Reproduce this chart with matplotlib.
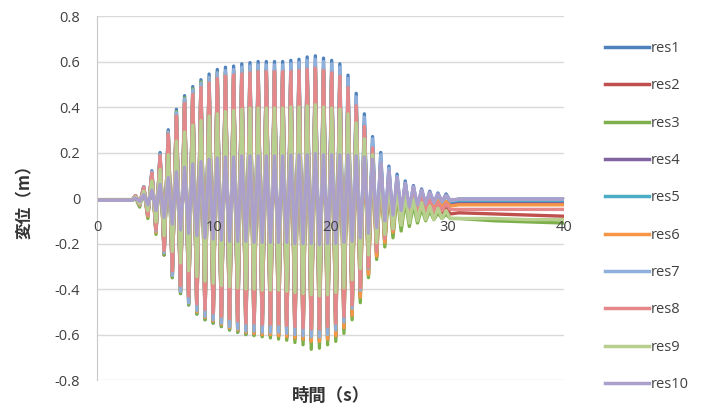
import numpy as np
import matplotlib
matplotlib.use("Agg")
import matplotlib.pyplot as plt

plt.rcParams['font.family'] = ['Open Sans', 'Noto Sans CJK JP', 'DejaVu Sans']
plt.rcParams['axes.unicode_minus'] = False

# response histories: one positive and one negative peak per cycle
cycle_start = 3.3      # s, first positive peak
cycle_period = 0.7     # s
lead_t = [0.0, 3.0]
tail_t = [31.0, 34.0, 37.0, 40.0]

names = ['res1', 'res2', 'res3', 'res4', 'res5', 'res6', 'res7', 'res8', 'res9', 'res10']
colors = ['#4F81BD', '#C0504D', '#7DB04A', '#8064A2', '#4BACC6',
          '#F79646', '#8FB0DB', '#E6878A', '#B7D08F', '#ABA0CC']
lead_levels = [-0.01, -0.01, -0.01, -0.01, -0.01, -0.01, -0.01, -0.01, -0.01, -0.01]

res1_hi = [0.01, 0.05, 0.12, 0.20, 0.30, 0.39, 0.45, 0.49, 0.52, 0.545,
           0.565, 0.575, 0.58, 0.59, 0.595, 0.60, 0.60, 0.60, 0.60, 0.605,
           0.61, 0.62, 0.625, 0.615, 0.605, 0.59, 0.54, 0.46, 0.37, 0.27,
           0.20, 0.14, 0.105, 0.075, 0.055, 0.04, 0.03, 0.022, 0.018]
res1_lo = [-0.03, -0.08, -0.15, -0.25, -0.35, -0.42, -0.47, -0.51, -0.535, -0.55,
           -0.565, -0.58, -0.59, -0.60, -0.60, -0.605, -0.605, -0.605, -0.61, -0.615,
           -0.62, -0.625, -0.625, -0.615, -0.595, -0.56, -0.50, -0.42, -0.32, -0.24,
           -0.18, -0.135, -0.10, -0.07, -0.05, -0.035, -0.025, -0.02, -0.015]
res1_tail = [-0.005, -0.005, -0.005, -0.005]

res2_hi = [0.01, 0.05, 0.11, 0.19, 0.29, 0.37, 0.43, 0.47, 0.50, 0.52,
           0.54, 0.55, 0.555, 0.56, 0.565, 0.565, 0.565, 0.565, 0.565, 0.565,
           0.57, 0.575, 0.58, 0.57, 0.555, 0.54, 0.49, 0.41, 0.32, 0.22,
           0.15, 0.09, 0.05, 0.02, 0.0, -0.015, -0.025, -0.035, -0.04]
res2_lo = [-0.03, -0.08, -0.15, -0.25, -0.34, -0.41, -0.46, -0.50, -0.525, -0.545,
           -0.56, -0.575, -0.585, -0.595, -0.60, -0.60, -0.605, -0.61, -0.615, -0.62,
           -0.625, -0.635, -0.635, -0.625, -0.61, -0.575, -0.52, -0.44, -0.34, -0.26,
           -0.20, -0.16, -0.13, -0.11, -0.095, -0.085, -0.08, -0.075, -0.07]
res2_tail = [-0.065, -0.07, -0.075, -0.08]

res3_hi = [0.0, 0.04, 0.11, 0.19, 0.29, 0.38, 0.44, 0.48, 0.51, 0.53,
           0.55, 0.555, 0.56, 0.565, 0.565, 0.565, 0.565, 0.56, 0.56, 0.56,
           0.565, 0.57, 0.57, 0.56, 0.545, 0.525, 0.47, 0.39, 0.29, 0.19,
           0.12, 0.06, 0.02, -0.01, -0.03, -0.045, -0.055, -0.065, -0.07]
res3_lo = [-0.04, -0.09, -0.16, -0.25, -0.35, -0.42, -0.47, -0.51, -0.535, -0.55,
           -0.565, -0.58, -0.59, -0.60, -0.605, -0.61, -0.615, -0.62, -0.625, -0.635,
           -0.645, -0.665, -0.66, -0.645, -0.63, -0.595, -0.535, -0.46, -0.35, -0.27,
           -0.215, -0.175, -0.145, -0.125, -0.11, -0.10, -0.095, -0.09, -0.09]
res3_tail = [-0.09, -0.10, -0.105, -0.11]

res4_hi = [0.0, 0.01, 0.03, 0.06, 0.09, 0.12, 0.135, 0.145, 0.155, 0.16,
           0.165, 0.17, 0.17, 0.175, 0.175, 0.175, 0.175, 0.175, 0.175, 0.175,
           0.18, 0.18, 0.18, 0.175, 0.17, 0.165, 0.15, 0.125, 0.095, 0.065,
           0.04, 0.025, 0.015, 0.005, 0.0, -0.005, -0.01, -0.01, -0.015]
res4_lo = [-0.02, -0.035, -0.06, -0.09, -0.12, -0.145, -0.16, -0.17, -0.18, -0.185,
           -0.19, -0.19, -0.195, -0.195, -0.195, -0.195, -0.195, -0.195, -0.2, -0.2,
           -0.2, -0.205, -0.205, -0.2, -0.195, -0.185, -0.17, -0.145, -0.115, -0.09,
           -0.07, -0.055, -0.045, -0.04, -0.035, -0.03, -0.03, -0.025, -0.025]
res4_tail = [-0.02, -0.02, -0.02, -0.02]

res5_hi = [0.01, 0.04, 0.10, 0.17, 0.26, 0.34, 0.40, 0.44, 0.47, 0.49,
           0.505, 0.515, 0.52, 0.53, 0.535, 0.535, 0.54, 0.54, 0.54, 0.545,
           0.55, 0.555, 0.56, 0.55, 0.54, 0.525, 0.48, 0.41, 0.33, 0.24,
           0.17, 0.12, 0.085, 0.06, 0.04, 0.03, 0.02, 0.015, 0.01]
res5_lo = [-0.03, -0.07, -0.14, -0.23, -0.32, -0.38, -0.43, -0.46, -0.48, -0.495,
           -0.51, -0.52, -0.53, -0.54, -0.54, -0.545, -0.545, -0.545, -0.55, -0.555,
           -0.56, -0.565, -0.565, -0.555, -0.535, -0.505, -0.45, -0.38, -0.29, -0.22,
           -0.165, -0.125, -0.09, -0.065, -0.05, -0.035, -0.025, -0.02, -0.015]
res5_tail = [-0.01, -0.01, -0.01, -0.01]

res6_hi = [0.01, 0.05, 0.11, 0.18, 0.28, 0.36, 0.42, 0.46, 0.49, 0.51,
           0.53, 0.54, 0.545, 0.55, 0.555, 0.555, 0.555, 0.555, 0.555, 0.56,
           0.565, 0.57, 0.575, 0.565, 0.55, 0.535, 0.485, 0.405, 0.315, 0.22,
           0.15, 0.095, 0.06, 0.035, 0.015, 0.005, -0.005, -0.01, -0.015]
res6_lo = [-0.03, -0.08, -0.15, -0.24, -0.34, -0.41, -0.46, -0.50, -0.525, -0.54,
           -0.555, -0.57, -0.58, -0.59, -0.595, -0.60, -0.60, -0.605, -0.61, -0.615,
           -0.62, -0.63, -0.63, -0.62, -0.605, -0.57, -0.515, -0.435, -0.335, -0.255,
           -0.195, -0.15, -0.115, -0.09, -0.07, -0.055, -0.045, -0.04, -0.035]
res6_tail = [-0.03, -0.03, -0.03, -0.03]

res7_hi = [0.01, 0.05, 0.115, 0.19, 0.29, 0.375, 0.435, 0.475, 0.505, 0.53,
           0.55, 0.56, 0.565, 0.575, 0.58, 0.585, 0.585, 0.585, 0.585, 0.59,
           0.595, 0.605, 0.61, 0.60, 0.59, 0.575, 0.525, 0.445, 0.355, 0.26,
           0.19, 0.13, 0.095, 0.065, 0.045, 0.03, 0.02, 0.015, 0.01]
res7_lo = [-0.03, -0.075, -0.145, -0.24, -0.34, -0.41, -0.46, -0.495, -0.52, -0.535,
           -0.55, -0.565, -0.575, -0.585, -0.585, -0.59, -0.59, -0.59, -0.595, -0.60,
           -0.605, -0.61, -0.61, -0.60, -0.58, -0.545, -0.485, -0.405, -0.31, -0.23,
           -0.17, -0.125, -0.09, -0.065, -0.045, -0.03, -0.022, -0.017, -0.012]
res7_tail = [-0.005, -0.005, -0.005, -0.005]

res8_hi = [0.01, 0.045, 0.11, 0.185, 0.28, 0.36, 0.415, 0.455, 0.485, 0.505,
           0.525, 0.535, 0.54, 0.545, 0.55, 0.555, 0.555, 0.555, 0.555, 0.555,
           0.56, 0.565, 0.57, 0.56, 0.55, 0.535, 0.485, 0.405, 0.315, 0.22,
           0.15, 0.095, 0.06, 0.035, 0.015, 0.0, -0.01, -0.02, -0.025]
res8_lo = [-0.03, -0.075, -0.14, -0.23, -0.32, -0.385, -0.43, -0.465, -0.49, -0.505,
           -0.52, -0.53, -0.54, -0.55, -0.55, -0.555, -0.555, -0.555, -0.56, -0.565,
           -0.57, -0.575, -0.575, -0.565, -0.55, -0.52, -0.47, -0.395, -0.305, -0.235,
           -0.18, -0.14, -0.11, -0.09, -0.075, -0.065, -0.06, -0.055, -0.05]
res8_tail = [-0.05, -0.05, -0.05, -0.05]

res9_hi = [0.005, 0.03, 0.075, 0.125, 0.19, 0.25, 0.29, 0.32, 0.34, 0.36,
           0.37, 0.38, 0.385, 0.39, 0.395, 0.395, 0.395, 0.395, 0.395, 0.40,
           0.40, 0.405, 0.41, 0.40, 0.395, 0.39, 0.37, 0.33, 0.26, 0.19,
           0.13, 0.08, 0.045, 0.015, -0.005, -0.02, -0.035, -0.045, -0.055]
res9_lo = [-0.025, -0.055, -0.105, -0.165, -0.235, -0.285, -0.32, -0.345, -0.365, -0.375,
           -0.385, -0.39, -0.395, -0.40, -0.40, -0.405, -0.405, -0.405, -0.41, -0.415,
           -0.42, -0.425, -0.43, -0.425, -0.415, -0.395, -0.36, -0.31, -0.25, -0.195,
           -0.16, -0.135, -0.12, -0.11, -0.10, -0.095, -0.095, -0.09, -0.09]
res9_tail = [-0.09, -0.09, -0.095, -0.095]

res10_hi = [0.0, 0.015, 0.035, 0.06, 0.09, 0.115, 0.135, 0.15, 0.16, 0.17,
            0.175, 0.18, 0.18, 0.185, 0.185, 0.185, 0.185, 0.185, 0.185, 0.19,
            0.19, 0.19, 0.195, 0.19, 0.19, 0.19, 0.19, 0.185, 0.18, 0.17,
            0.155, 0.12, 0.09, 0.065, 0.05, 0.035, 0.025, 0.018, 0.012]
res10_lo = [-0.015, -0.03, -0.055, -0.085, -0.115, -0.14, -0.155, -0.165, -0.175, -0.18,
            -0.185, -0.19, -0.19, -0.19, -0.195, -0.195, -0.195, -0.195, -0.195, -0.2,
            -0.2, -0.2, -0.205, -0.2, -0.2, -0.195, -0.19, -0.175, -0.155, -0.13,
            -0.1, -0.075, -0.055, -0.04, -0.03, -0.022, -0.017, -0.013, -0.01]
res10_tail = [-0.005, -0.005, -0.005, -0.005]

peaks_hi = [res1_hi, res2_hi, res3_hi, res4_hi, res5_hi, res6_hi, res7_hi, res8_hi, res9_hi, res10_hi]
peaks_lo = [res1_lo, res2_lo, res3_lo, res4_lo, res5_lo, res6_lo, res7_lo, res8_lo, res9_lo, res10_lo]
tails = [res1_tail, res2_tail, res3_tail, res4_tail, res5_tail,
         res6_tail, res7_tail, res8_tail, res9_tail, res10_tail]

n_cycles = len(res1_hi)
t_hi = cycle_start + cycle_period * np.arange(n_cycles)
t_lo = t_hi + cycle_period / 2
t_osc = np.column_stack([t_hi, t_lo]).ravel()
t_all = np.concatenate([lead_t, t_osc, tail_t])

fig = plt.figure(figsize=(7.01, 4.15), dpi=100)
ax = fig.add_axes([0.1384, 0.0843, 0.6662, 0.8771])

for name, col, lead, hi, lo, tail in zip(names, colors, lead_levels, peaks_hi, peaks_lo, tails):
    y_osc = np.column_stack([hi, lo]).ravel()
    y_all = np.concatenate([[lead, lead], y_osc, tail])
    ax.plot(t_all, y_all, color=col, lw=2.4, label=name, zorder=2,
            solid_joinstyle='round')

ax.set_xlim(0, 40)
ax.set_ylim(-0.8, 0.8)
ax.set_yticks(np.arange(-0.8, 0.81, 0.2))
ax.set_yticklabels(['-0.8', '-0.6', '-0.4', '-0.2', '0', '0.2', '0.4', '0.6', '0.8'])
ax.set_xticks([0, 10, 20, 30, 40])

# horizontal gridlines behind the data, axis text in front
for yv in np.arange(-0.8, 0.81, 0.2):
    ax.axhline(yv, color='#D9D9D9', lw=1.0, zorder=0.5)
ax.set_axisbelow(False)

for s in ['top', 'right']:
    ax.spines[s].set_visible(False)
ax.spines['left'].set_color('#C8C8C8')
ax.spines['bottom'].set_position(('data', 0))
ax.spines['bottom'].set_color('#BFBFBF')
ax.spines['bottom'].set_zorder(0.6)

ax.tick_params(axis='y', length=0, pad=12, labelsize=10.5, labelcolor='#404040')
ax.tick_params(axis='x', length=0, pad=16, labelsize=10.5, labelcolor='#404040')

ax.set_ylabel('変位（m）', fontsize=12, fontweight='bold', color='#333333',
              family=['Noto Sans CJK JP', 'DejaVu Sans'])
ax.yaxis.set_label_coords(-0.135, 0.5)
ax.set_xlabel('時間（s）', fontsize=12.5, fontweight='bold', color='#333333',
              family=['Noto Sans CJK JP', 'DejaVu Sans'])
ax.xaxis.set_label_coords(0.5, -0.02)

leg = ax.legend(loc='upper left', bbox_to_anchor=(0.855, 0.915), bbox_transform=fig.transFigure,
                frameon=False, fontsize=10.5, handlelength=3.0, handletextpad=0.1,
                labelspacing=1.53, borderaxespad=0)
for line in leg.get_lines():
    line.set_linewidth(2.5)
for txt in leg.get_texts():
    txt.set_color('#404040')

fig.savefig('out.png', dpi=100)
